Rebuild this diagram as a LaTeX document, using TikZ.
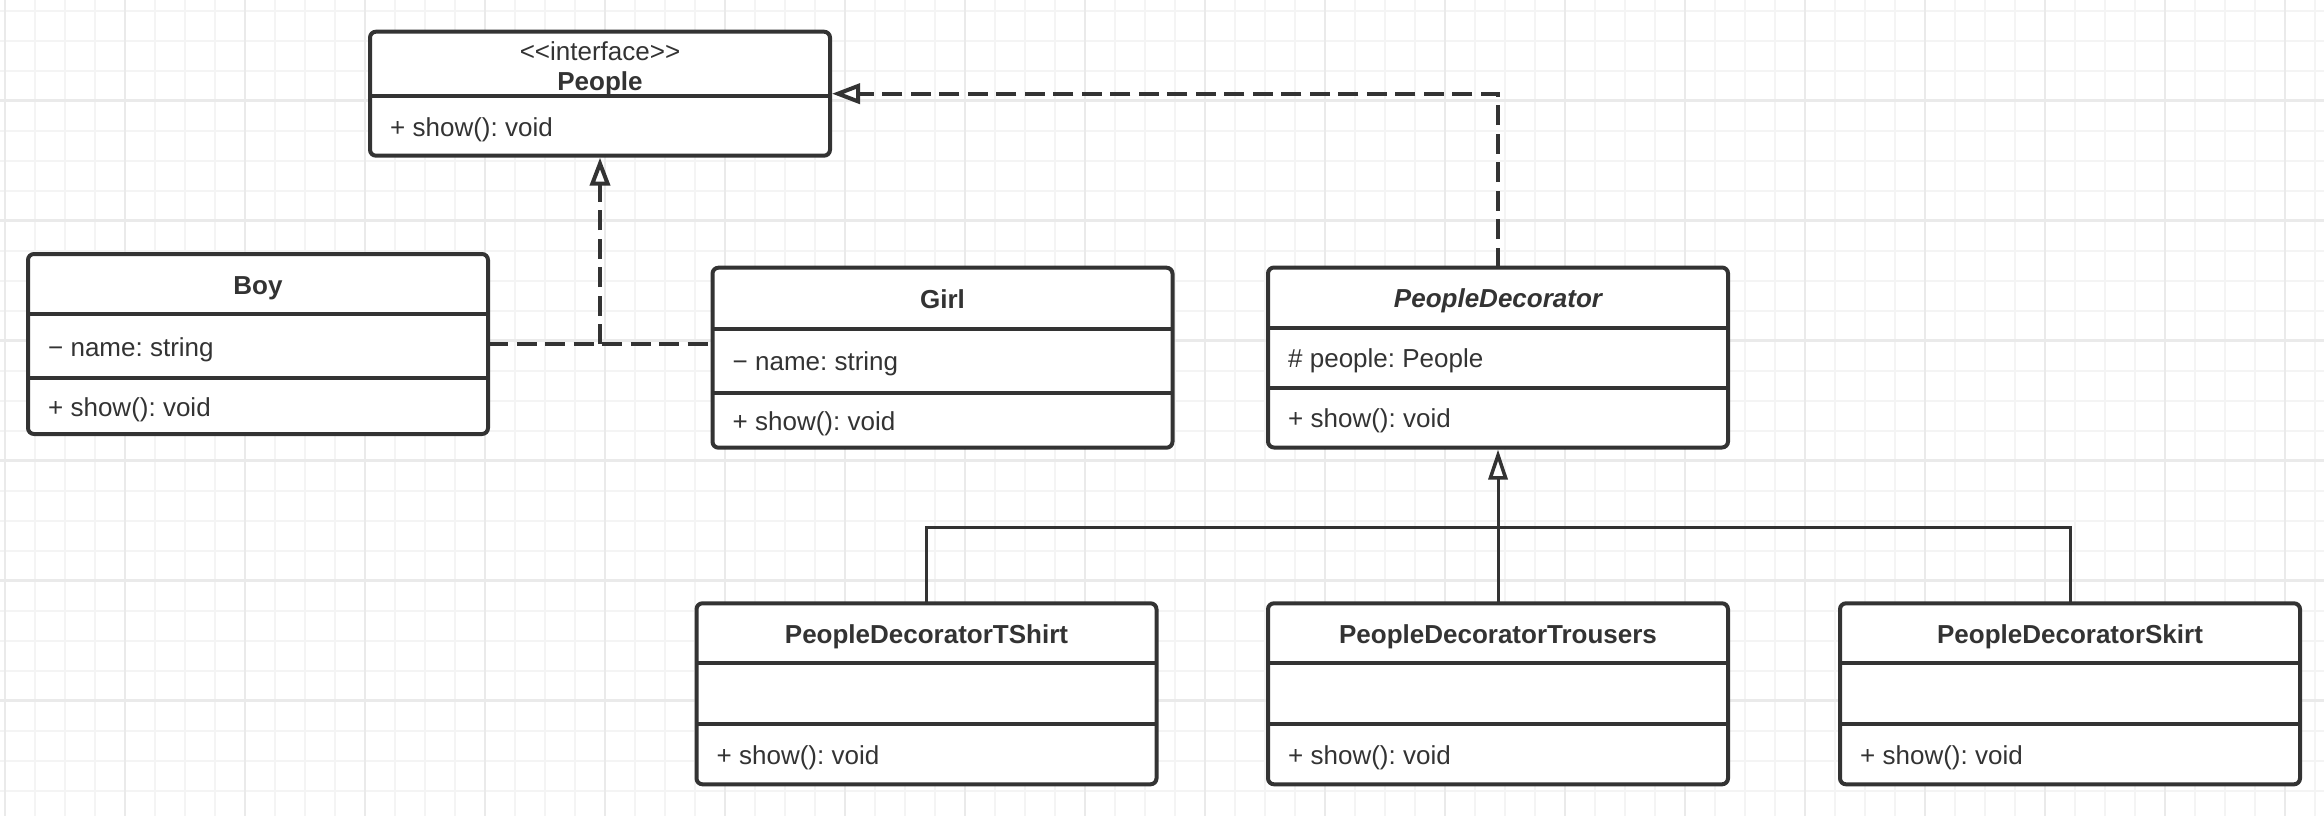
\documentclass[tikz,border=0pt]{standalone}
\usepackage{fontspec}
\setmainfont{Liberation Sans}
\usetikzlibrary{arrows.meta,calc}
\frenchspacing
\definecolor{ink}{HTML}{333333}
\definecolor{gridminor}{HTML}{F4F4F4}
\definecolor{gridmajor}{HTML}{EAEAEA}
\tikzset{
  classbox/.style={draw=ink, line width=4pt, fill=white, rounded corners=6pt,
    minimum width=460pt, inner sep=0pt, outer sep=0pt},
  divider/.style={draw=ink, line width=4pt},
  titletext/.style={text=ink, font=\fontsize{26}{31}\selectfont\bfseries,
    inner sep=0pt, text height=20pt, text depth=0pt, anchor=center},
  plaintitle/.style={titletext, font=\fontsize{26}{31}\selectfont},
  membertext/.style={text=ink, font=\fontsize{26}{31}\selectfont,
    inner sep=0pt, text height=20pt, text depth=0pt, anchor=west},
  dep/.style={draw=ink, line width=4pt, dash pattern=on 20pt off 8.5pt},
  realize/.style={dep, shorten >=2pt,
    -{Triangle[open, length=28pt, width=20pt, line width=4pt]}},
  solidlink/.style={draw=ink, line width=3pt},
  gen/.style={solidlink, shorten >=2pt,
    -{Triangle[open, length=30pt, width=19pt, line width=3.5pt]}},
}
% #1 name, #2 left x, #3 top y, #4 #5 #6 compartment heights, #7 title, #8 attribute, #9 operation
\newcommand\umlclass[9]{%
  \pgfmathsetmacro\hA{#4}%
  \pgfmathsetmacro\hB{#4+#5}%
  \pgfmathsetmacro\hT{#4+#5+#6}%
  \pgfmathsetmacro\cA{#4/2}%
  \pgfmathsetmacro\cB{#4+#5/2}%
  \pgfmathsetmacro\cC{#4+#5+#6/2}%
  \node[classbox, minimum height=\hT pt, anchor=north west] (#1) at (#2,#3) {};
  \draw[divider] ([yshift=-\hA pt]#1.north west) -- ([yshift=-\hA pt]#1.north east);
  \draw[divider] ([yshift=-\hB pt]#1.north west) -- ([yshift=-\hB pt]#1.north east);
  \node[titletext] (#1-title) at ([yshift=-\cA pt]#1.north) {#7};
  \node[membertext] (#1-attr) at ([xshift=20pt,yshift=-\cB pt]#1.north west) {#8};
  \node[membertext] (#1-op) at ([xshift=20pt,yshift=-\cC pt]#1.north west) {#9};
}
\begin{document}
\begin{tikzpicture}[x=1pt, y=-1pt]
  \useasboundingbox (0,0) rectangle (2324,816);
  \fill[white] (0,0) rectangle (2324,816);
  % grid
  \foreach \gx in {5,35,...,2324} \draw[gridminor, line width=2pt] (\gx,0) -- (\gx,816);
  \foreach \gy in {10.7,40.7,...,816} \draw[gridminor, line width=2pt] (0,\gy) -- (2324,\gy);
  \foreach \gx in {5,125,...,2324} \draw[gridmajor, line width=2.5pt] (\gx,0) -- (\gx,816);
  \foreach \gy in {100.7,220.7,...,816} \draw[gridmajor, line width=2.5pt] (0,\gy) -- (2324,\gy);

  % interface People
  \node[classbox, minimum height=124pt, anchor=north west] (people) at (370,31.7) {};
  \draw[divider] ([yshift=-64pt]people.north west) -- ([yshift=-64pt]people.north east);
  \node[plaintitle] (people-stereo) at ([yshift=-19pt]people.north) {<{}<interface>{}>};
  \node[titletext] (people-title) at ([yshift=-49pt]people.north) {People};
  \node[membertext] (people-op) at ([xshift=20pt,yshift=-95pt]people.north west) {+ show(): void};

  \umlclass{boy}{28}{254}{60}{64}{56}{Boy}{− name: string}{+ show(): void}
  \umlclass{girl}{712.5}{267.7}{61}{64}{55}{Girl}{− name: string}{+ show(): void}
  \umlclass{pd}{1268}{267.5}{60}{60}{60}{\itshape PeopleDecorator}{\# people: People}{+ show(): void}
  \umlclass{tshirt}{696.5}{603.3}{60}{61}{60}{PeopleDecoratorTShirt}{}{+ show(): void}
  \umlclass{trousers}{1268}{603.3}{60}{61}{60}{PeopleDecoratorTrousers}{}{+ show(): void}
  \umlclass{skirt}{1840}{603.3}{60}{61}{60}{PeopleDecoratorSkirt}{}{+ show(): void}

  % realizations
  \coordinate (junc) at (people.south |- boy.east);
  \draw[dep] (boy.east) -- (girl.west |- boy.east);
  \draw[realize] (junc) -- (people.south);
  \draw[realize] (pd.north) |- (people.east);

  % generalization
  \coordinate (bus) at (1498,527);
  \draw[solidlink] (tshirt.north) |- (bus) -| (skirt.north);
  \draw[gen] (trousers.north) -- (pd.south);
\end{tikzpicture}
\end{document}
